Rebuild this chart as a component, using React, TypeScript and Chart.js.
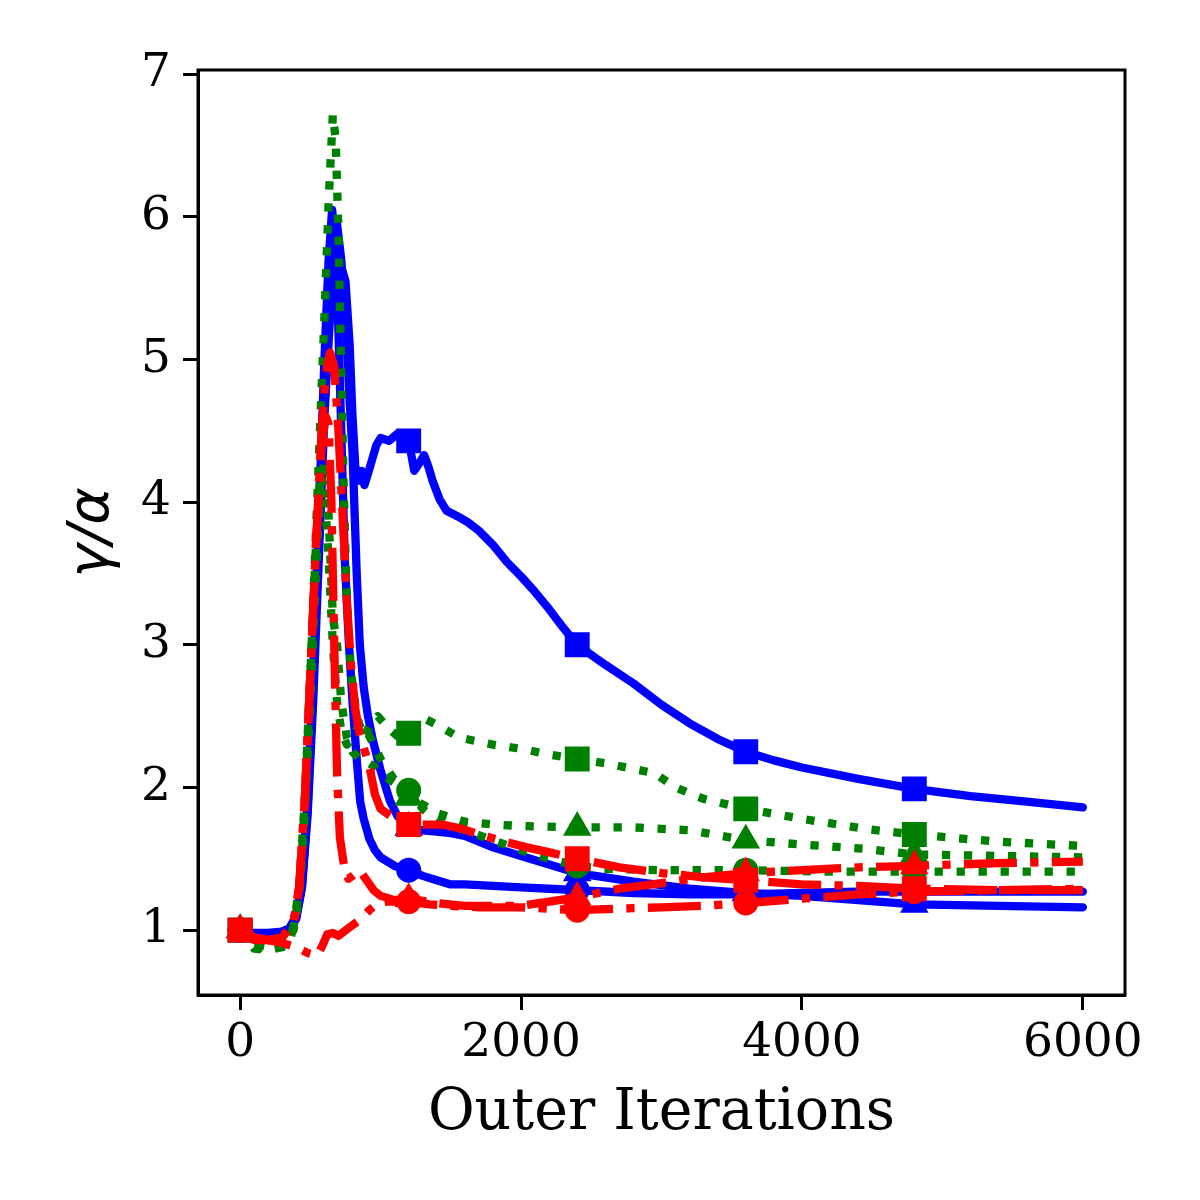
import React, { useRef, useEffect } from 'react';
import { Chart, registerables } from 'chart.js';

Chart.register(...registerables);

// axis ticks
const xTicks = [0, 2000, 4000, 6000];
const yTicks = [1, 2, 3, 4, 5, 6, 7];
// iterations where markers are shown
const markerIters = [0, 1200, 2400, 3600, 4800];

// blue, square
const blueSqX = [0, 100, 200, 300, 350, 400, 440, 480, 520, 560, 600, 640, 680, 720, 750, 780, 800, 820, 845, 865, 885, 910, 940, 970, 1000, 1060, 1120, 1200, 1240, 1280, 1310, 1340, 1370, 1420, 1470, 1550, 1620, 1700, 1800, 1900, 2000, 2100, 2200, 2300, 2400, 2600, 2800, 3000, 3200, 3400, 3600, 3800, 4000, 4400, 4800, 5200, 5600, 6000];
const blueSqY = [1.0, 0.97, 0.97, 0.98, 1.0, 1.08, 1.3, 1.8, 2.6, 3.6, 4.6, 5.3, 5.62, 5.65, 5.55, 5.1, 4.6, 4.25, 4.15, 4.22, 4.12, 4.2, 4.3, 4.4, 4.45, 4.43, 4.48, 4.43, 4.22, 4.28, 4.33, 4.25, 4.15, 4.02, 3.94, 3.9, 3.86, 3.8, 3.7, 3.58, 3.48, 3.37, 3.25, 3.12, 3.0, 2.86, 2.73, 2.58, 2.45, 2.34, 2.25, 2.19, 2.14, 2.06, 1.99, 1.94, 1.9, 1.86];

// blue, circle
const blueCiX = [0, 100, 200, 300, 350, 400, 440, 480, 520, 560, 600, 630, 655, 680, 700, 720, 745, 775, 800, 830, 855, 880, 920, 960, 1000, 1100, 1200, 1300, 1400, 1500, 1600, 1800, 2000, 2200, 2400, 2800, 3200, 3600, 4000, 4400, 4800, 5400, 6000];
const blueCiY = [1.0, 0.98, 0.98, 0.99, 1.01, 1.1, 1.35, 1.9, 2.8, 3.9, 5.0, 5.7, 6.05, 5.8, 5.2, 4.5, 3.6, 3.0, 2.6, 2.2, 1.9, 1.78, 1.64, 1.56, 1.51, 1.45, 1.42, 1.38, 1.35, 1.32, 1.32, 1.31, 1.3, 1.29, 1.28, 1.26, 1.25, 1.25, 1.26, 1.27, 1.27, 1.27, 1.27];

// blue, triangle
const blueTrX = [0, 100, 200, 300, 350, 400, 440, 480, 520, 560, 600, 630, 660, 690, 720, 750, 780, 800, 830, 852, 880, 910, 945, 1000, 1065, 1120, 1200, 1300, 1400, 1500, 1600, 1700, 1800, 2000, 2200, 2400, 2800, 3200, 3600, 4000, 4400, 4800, 5400, 6000];
const blueTrY = [1.0, 0.97, 0.97, 0.99, 1.01, 1.1, 1.3, 1.85, 2.7, 3.8, 4.9, 5.6, 6.0, 5.95, 5.7, 5.3, 4.7, 4.35, 3.5, 3.0, 2.7, 2.5, 2.33, 2.12, 1.91, 1.8, 1.72, 1.7, 1.69, 1.68, 1.66, 1.62, 1.58, 1.52, 1.46, 1.4, 1.34, 1.29, 1.26, 1.24, 1.21, 1.18, 1.17, 1.16];

// green, square
const greenSqX = [0, 100, 200, 300, 360, 400, 440, 480, 520, 560, 600, 630, 660, 680, 700, 720, 740, 760, 790, 830, 880, 930, 980, 1050, 1120, 1200, 1300, 1400, 1560, 1800, 2010, 2200, 2400, 2600, 2800, 2950, 3100, 3300, 3600, 4000, 4450, 4800, 5400, 6000];
const greenSqY = [1.0, 0.87, 0.86, 0.88, 0.95, 1.1, 1.5, 2.3, 3.3, 4.3, 5.3, 6.1, 6.72, 6.55, 5.9, 4.9, 4.0, 3.3, 2.8, 2.5, 2.35, 2.45, 2.5, 2.42, 2.36, 2.38, 2.49, 2.44, 2.35, 2.3, 2.27, 2.23, 2.2, 2.17, 2.13, 2.1, 2.0, 1.92, 1.85, 1.78, 1.71, 1.67, 1.62, 1.59];

// green, circle
const greenCiX = [0, 100, 200, 300, 380, 420, 460, 500, 540, 570, 600, 630, 660, 690, 720, 760, 800, 850, 900, 950, 1000, 1100, 1200, 1300, 1400, 1600, 1800, 2000, 2200, 2400, 2600, 3000, 3600, 4200, 4800, 5400, 6000];
const greenCiY = [1.0, 0.88, 0.87, 0.89, 1.0, 1.25, 1.8, 2.6, 3.5, 4.1, 4.3, 3.9, 3.2, 3.0, 2.6, 2.35, 2.25, 2.2, 2.18, 2.15, 2.1, 2.03, 1.98, 1.85, 1.77, 1.7, 1.63, 1.56, 1.5, 1.45, 1.43, 1.42, 1.42, 1.41, 1.41, 1.41, 1.41];

// green, triangle
const greenTrX = [0, 100, 200, 300, 380, 420, 460, 500, 540, 570, 600, 630, 660, 690, 720, 760, 800, 850, 900, 1000, 1100, 1200, 1300, 1400, 1600, 1800, 2000, 2400, 2800, 3200, 3600, 4000, 4450, 4800, 5400, 6000];
const greenTrY = [1.0, 0.9, 0.88, 0.9, 1.02, 1.3, 1.9, 2.8, 3.7, 4.2, 4.1, 3.6, 3.0, 2.6, 2.4, 2.3, 2.35, 2.45, 2.4, 2.2, 2.05, 1.93, 1.88, 1.82, 1.76, 1.74, 1.73, 1.72, 1.72, 1.7, 1.63, 1.6, 1.57, 1.53, 1.52, 1.51];

// red, square
const redSqX = [0, 100, 200, 300, 380, 420, 460, 500, 540, 580, 610, 640, 670, 700, 730, 760, 790, 820, 850, 880, 920, 960, 1000, 1100, 1200, 1300, 1440, 1580, 1700, 1850, 2040, 2180, 2400, 2700, 3000, 3300, 3600, 4000, 4400, 4800, 5400, 6000];
const redSqY = [1.0, 0.94, 0.93, 0.95, 1.05, 1.3, 1.9, 2.8, 3.7, 4.5, 4.9, 5.05, 4.95, 4.5, 3.9, 3.3, 2.85, 2.55, 2.38, 2.28, 2.15, 1.95, 1.85, 1.78, 1.74, 1.74, 1.74, 1.71, 1.67, 1.63, 1.58, 1.55, 1.5, 1.44, 1.4, 1.37, 1.35, 1.32, 1.31, 1.29, 1.28, 1.28];

// red, circle
const redCiX = [0, 100, 200, 300, 400, 480, 550, 590, 620, 660, 700, 740, 780, 850, 920, 980, 1050, 1200, 1350, 1500, 1700, 2000, 2200, 2400, 2700, 3000, 3300, 3600, 4000, 4400, 4800, 5400, 6000];
const redCiY = [1.0, 0.95, 0.93, 0.91, 0.88, 0.84, 0.82, 0.9, 0.97, 0.98, 0.96, 0.99, 1.02, 1.07, 1.14, 1.19, 1.2, 1.2, 1.18, 1.17, 1.16, 1.16, 1.15, 1.14, 1.15, 1.16, 1.17, 1.19, 1.22, 1.25, 1.27, 1.28, 1.29];

// red, triangle
const redTrX = [0, 100, 200, 300, 380, 420, 460, 500, 540, 580, 610, 630, 650, 670, 690, 710, 740, 770, 800, 850, 900, 950, 1000, 1100, 1200, 1400, 1600, 1800, 2000, 2200, 2400, 2700, 3000, 3300, 3600, 4000, 4400, 4800, 5400, 6000];
const redTrY = [1.0, 0.93, 0.93, 0.95, 1.05, 1.3, 1.9, 2.8, 3.7, 4.4, 4.6, 4.55, 4.0, 3.0, 2.1, 1.65, 1.45, 1.36, 1.38, 1.42, 1.35, 1.28, 1.24, 1.21, 1.22, 1.19, 1.17, 1.17, 1.17, 1.2, 1.23, 1.29, 1.33, 1.37, 1.4, 1.42, 1.44, 1.45, 1.47, 1.48];

const BLUE = '#0000ff';
const GREEN = '#008000';
const RED = '#ff0000';
const LW = 8.3;
const DOTTED = [8.3, 13.7];
const DASHDOT = [53, 13.3, 8.3, 13.3];

type Shape = 'rect' | 'circle' | 'triangle';
const markerSize: Record<Shape, number> = { rect: 15.5, circle: 11, triangle: 13.5 };

const series: { xs: number[]; ys: number[]; color: string; dash: number[]; shape: Shape }[] = [
    { xs: blueSqX, ys: blueSqY, color: BLUE, dash: [], shape: 'rect' },
    { xs: blueCiX, ys: blueCiY, color: BLUE, dash: [], shape: 'circle' },
    { xs: blueTrX, ys: blueTrY, color: BLUE, dash: [], shape: 'triangle' },
    { xs: greenSqX, ys: greenSqY, color: GREEN, dash: DOTTED, shape: 'rect' },
    { xs: greenCiX, ys: greenCiY, color: GREEN, dash: DOTTED, shape: 'circle' },
    { xs: greenTrX, ys: greenTrY, color: GREEN, dash: DOTTED, shape: 'triangle' },
    { xs: redSqX, ys: redSqY, color: RED, dash: DASHDOT, shape: 'rect' },
    { xs: redCiX, ys: redCiY, color: RED, dash: DASHDOT, shape: 'circle' },
    { xs: redTrX, ys: redTrY, color: RED, dash: DASHDOT, shape: 'triangle' },
];

// top/right spines like matplotlib
const framePlugin = {
    id: 'frame',
    afterDatasetsDraw(chart: any) {
        const { ctx, chartArea: a } = chart;
        ctx.save();
        ctx.strokeStyle = '#000';
        ctx.lineWidth = 3;
        ctx.strokeRect(a.left, a.top, a.right - a.left, a.bottom - a.top);
        ctx.restore();
    },
};

const tickFont = { family: "'DejaVu Serif', serif", size: 47 };

const App: React.FC = () => {
    const chartRef = useRef<HTMLCanvasElement>(null);

    useEffect(() => {
        if (!chartRef.current) return;

        const datasets = series.map((s, i) => ({
            data: s.xs.map((x, j) => ({ x, y: s.ys[j] })),
            borderColor: s.color,
            backgroundColor: s.color,
            borderWidth: LW,
            borderDash: s.dash,
            borderCapStyle: (s.dash.length ? 'butt' : 'round') as CanvasLineCap,
            borderJoinStyle: 'round' as CanvasLineJoin,
            tension: 0,
            fill: false,
            pointStyle: s.shape,
            pointRadius: (ctx: any) => (markerIters.includes(ctx.raw?.x) ? markerSize[s.shape] : 0),
            pointBackgroundColor: s.color,
            pointBorderColor: s.color,
            pointBorderWidth: 3,
            order: series.length - i,
        }));

        const myChart = new Chart(chartRef.current, {
            type: 'line',
            data: { datasets },
            options: {
                responsive: false,
                animation: false,
                devicePixelRatio: 1,
                layout: { padding: { top: 70, right: 75, left: 0, bottom: 0 } },
                plugins: { legend: { display: false }, tooltip: { enabled: false } },
                scales: {
                    x: {
                        type: 'linear',
                        min: -300,
                        max: 6300,
                        afterBuildTicks: (s: any) => { s.ticks = xTicks.map(v => ({ value: v })); },
                        afterFit: (s: any) => { s.height = 205; },
                        ticks: { font: tickFont, color: '#000', padding: 6, maxRotation: 0, callback: (v: any) => String(v) },
                        grid: { drawOnChartArea: false, drawTicks: true, tickLength: 15, tickColor: '#000', tickWidth: 3 },
                        border: { display: true, color: '#000', width: 3 },
                        title: {
                            display: true,
                            text: 'Outer Iterations',
                            color: '#000',
                            font: { family: "'DejaVu Serif', serif", size: 57 },
                            padding: { bottom: 52 },
                        },
                    },
                    y: {
                        type: 'linear',
                        min: 0.545,
                        max: 7.03,
                        afterBuildTicks: (s: any) => { s.ticks = yTicks.map(v => ({ value: v })); },
                        afterFit: (s: any) => { s.width = 198; },
                        ticks: { font: tickFont, color: '#000', padding: 12, callback: (v: any) => String(v) },
                        grid: { drawOnChartArea: false, drawTicks: true, tickLength: 15, tickColor: '#000', tickWidth: 3 },
                        border: { display: true, color: '#000', width: 3 },
                        title: {
                            display: true,
                            text: 'γ/α',
                            color: '#000',
                            font: { family: "'DejaVu Sans', sans-serif", size: 57, style: 'italic' },
                            padding: { top: 59 },
                        },
                    },
                },
            },
            plugins: [framePlugin],
        });

        return () => {
            myChart.destroy();
        };
    }, []);

    return (
        <div style={{ position: 'absolute', left: 0, top: 0, width: 1200, height: 1200, background: '#fff' }}>
            <canvas ref={chartRef} width={1200} height={1200} />
        </div>
    );
};

export default App;
